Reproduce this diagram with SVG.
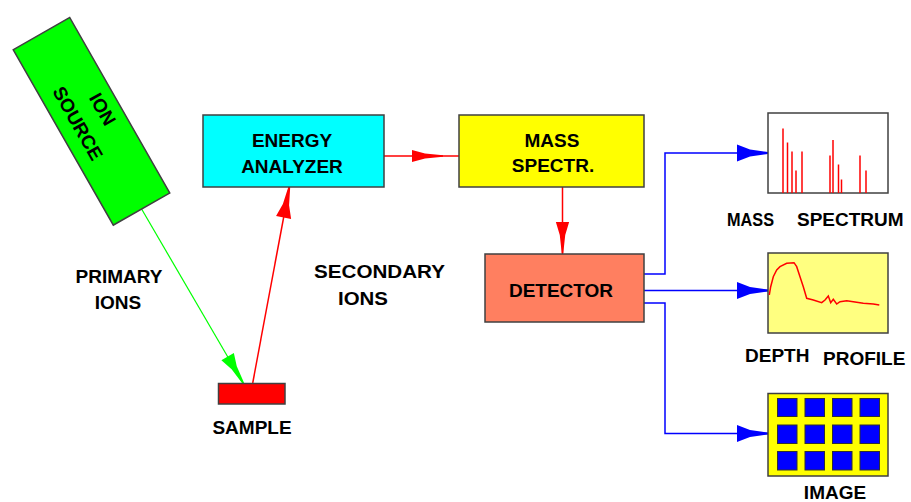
<svg xmlns="http://www.w3.org/2000/svg" xmlns:xlink="http://www.w3.org/1999/xlink" width="911" height="502" viewBox="0 0 911 502">
<style>
  text { font-family: "Liberation Sans", Arial, sans-serif; font-size: 19px; font-weight: bold; fill: #000; }
  .c { text-anchor: middle; }
  .box { stroke: #404040; stroke-width: 1.5; }
  .red { stroke: #ff0000; stroke-width: 1.5; fill: none; }
  .blue { stroke: #0000ff; stroke-width: 1.5; fill: none; }
  .green { stroke: #00ff00; stroke-width: 1.2; fill: none; }
  .peak { stroke: #ff0000; stroke-width: 1.5; }
  .cell { fill: #0000ff; stroke: #303030; stroke-width: 1; }
</style>
<defs>
  <path id="ah" d="M0,-1 L-18,-3.5 L-31,-8.5 L-31,8.5 L-18,3.5 L0,1 Z"/>
</defs>
<rect width="911" height="502" fill="#ffffff"/>

<g id="connectors">
  <line class="green" x1="141" y1="208" x2="243" y2="383"/>
  <use href="#ah" fill="#00ff00" transform="translate(243.3,383.3) rotate(59.6) scale(1,0.85)"/>
  <line class="red" x1="252.7" y1="383" x2="289.3" y2="187"/>
  <use href="#ah" fill="#ff0000" transform="translate(289.3,187) rotate(-79.4) scale(1,0.9)"/>
  <line class="red" x1="384" y1="156" x2="459" y2="156"/>
  <use href="#ah" fill="#ff0000" transform="translate(443,156) scale(1,0.72)"/>
  <line class="red" x1="562.5" y1="187" x2="562.5" y2="254"/>
  <use href="#ah" fill="#ff0000" transform="translate(562.5,253) rotate(90) scale(1,0.78)"/>
  <polyline class="blue" points="644,274 665,274 665,153 768,153"/>
  <use href="#ah" fill="#0000ff" transform="translate(768,153)"/>
  <line class="blue" x1="644" y1="290.5" x2="768" y2="290.5"/>
  <use href="#ah" fill="#0000ff" transform="translate(768,290.5)"/>
  <polyline class="blue" points="644,303 665,303 665,433.5 768,433.5"/>
  <use href="#ah" fill="#0000ff" transform="translate(768,433.5)"/>
</g>

<g id="ion-source" transform="translate(91.5,121.3) rotate(60.3)">
  <rect class="box" x="-101" y="-32.5" width="202" height="65" fill="#00ff00"/>
  <text class="c" x="-5" y="-9">ION</text>
  <text class="c" x="-5" y="19.5">SOURCE</text>
</g>

<g id="energy-analyzer">
  <rect class="box" x="203" y="115" width="181" height="72" fill="#00ffff"/>
  <text class="c" x="292" y="147">ENERGY</text>
  <text class="c" x="292" y="173">ANALYZER</text>
</g>

<g id="mass-spectr">
  <rect class="box" x="459" y="115" width="185" height="72" fill="#ffff00"/>
  <text class="c" x="552" y="147">MASS</text>
  <text class="c" x="553" y="172">SPECTR.</text>
</g>

<g id="detector">
  <rect class="box" x="485" y="254" width="159" height="68" fill="#ff7f60"/>
  <text class="c" x="561" y="297">DETECTOR</text>
</g>

<g id="sample">
  <rect class="box" x="218.5" y="383.5" width="66.5" height="20.5" fill="#ff0000"/>
  <text class="c" x="252" y="434">SAMPLE</text>
</g>

<g id="primary-ions">
  <text class="c" x="119" y="283">PRIMARY</text>
  <text class="c" x="118" y="309">IONS</text>
</g>

<g id="secondary-ions">
  <text x="314" y="278" textLength="131" lengthAdjust="spacingAndGlyphs">SECONDARY</text>
  <text x="338" y="305" textLength="50" lengthAdjust="spacingAndGlyphs">IONS</text>
</g>

<g id="mass-spectrum">
  <rect class="box" x="768" y="113" width="120" height="80" fill="#ffffff"/>
  <line class="peak" x1="783" y1="193" x2="783" y2="128.5"/>
  <line class="peak" x1="787.5" y1="193" x2="787.5" y2="142.5"/>
  <line class="peak" x1="792" y1="193" x2="792" y2="151.5"/>
  <line class="peak" x1="796" y1="193" x2="796" y2="170.5"/>
  <line class="peak" x1="802" y1="193" x2="802" y2="151.5"/>
  <line class="peak" x1="830" y1="193" x2="830" y2="155.5"/>
  <line class="peak" x1="833" y1="193" x2="833" y2="140"/>
  <line class="peak" x1="838.5" y1="193" x2="838.5" y2="164.5"/>
  <line class="peak" x1="841.5" y1="193" x2="841.5" y2="179.5"/>
  <line class="peak" x1="860" y1="193" x2="860" y2="155.5"/>
  <line class="peak" x1="866" y1="193" x2="866" y2="170.5"/>
  <text x="727" y="226"><tspan textLength="47" lengthAdjust="spacingAndGlyphs">MASS</tspan><tspan x="797">SPECTRUM</tspan></text>
</g>

<g id="depth-profile">
  <rect class="box" x="768" y="253" width="120" height="80" fill="#ffff80"/>
  <polyline class="red" points="769.3,295 770.7,286.7 773.3,276.7 776.7,270 780,266.7 786.7,263.3 794,262.7 796.7,266.7 800,276.7 803.3,286.7 806.7,298.3 813.3,300 821.7,302.7 825,300 828.3,296 830.7,302.7 833.3,299.3 836.7,304 840,301.7 846.7,300.7 853.3,301.7 863.3,303.3 873.3,304 879.3,305"/>
  <text x="745" y="362">DEPTH</text>
  <text x="823" y="365">PROFILE</text>
</g>

<g id="image">
  <rect class="box" x="768" y="393.5" width="120" height="82.5" fill="#ffff00"/>
  <rect class="cell" x="777.5" y="398.5" width="19.5" height="18"/>
  <rect class="cell" x="805" y="398.5" width="19.5" height="18"/>
  <rect class="cell" x="832.5" y="398.5" width="19.5" height="18"/>
  <rect class="cell" x="860" y="398.5" width="19.5" height="18"/>
  <rect class="cell" x="777.5" y="425" width="19.5" height="18.5"/>
  <rect class="cell" x="805" y="425" width="19.5" height="18.5"/>
  <rect class="cell" x="832.5" y="425" width="19.5" height="18.5"/>
  <rect class="cell" x="860" y="425" width="19.5" height="18.5"/>
  <rect class="cell" x="777.5" y="451.5" width="19.5" height="18.5"/>
  <rect class="cell" x="805" y="451.5" width="19.5" height="18.5"/>
  <rect class="cell" x="832.5" y="451.5" width="19.5" height="18.5"/>
  <rect class="cell" x="860" y="451.5" width="19.5" height="18.5"/>
  <text class="c" x="835" y="499">IMAGE</text>
</g>
</svg>
